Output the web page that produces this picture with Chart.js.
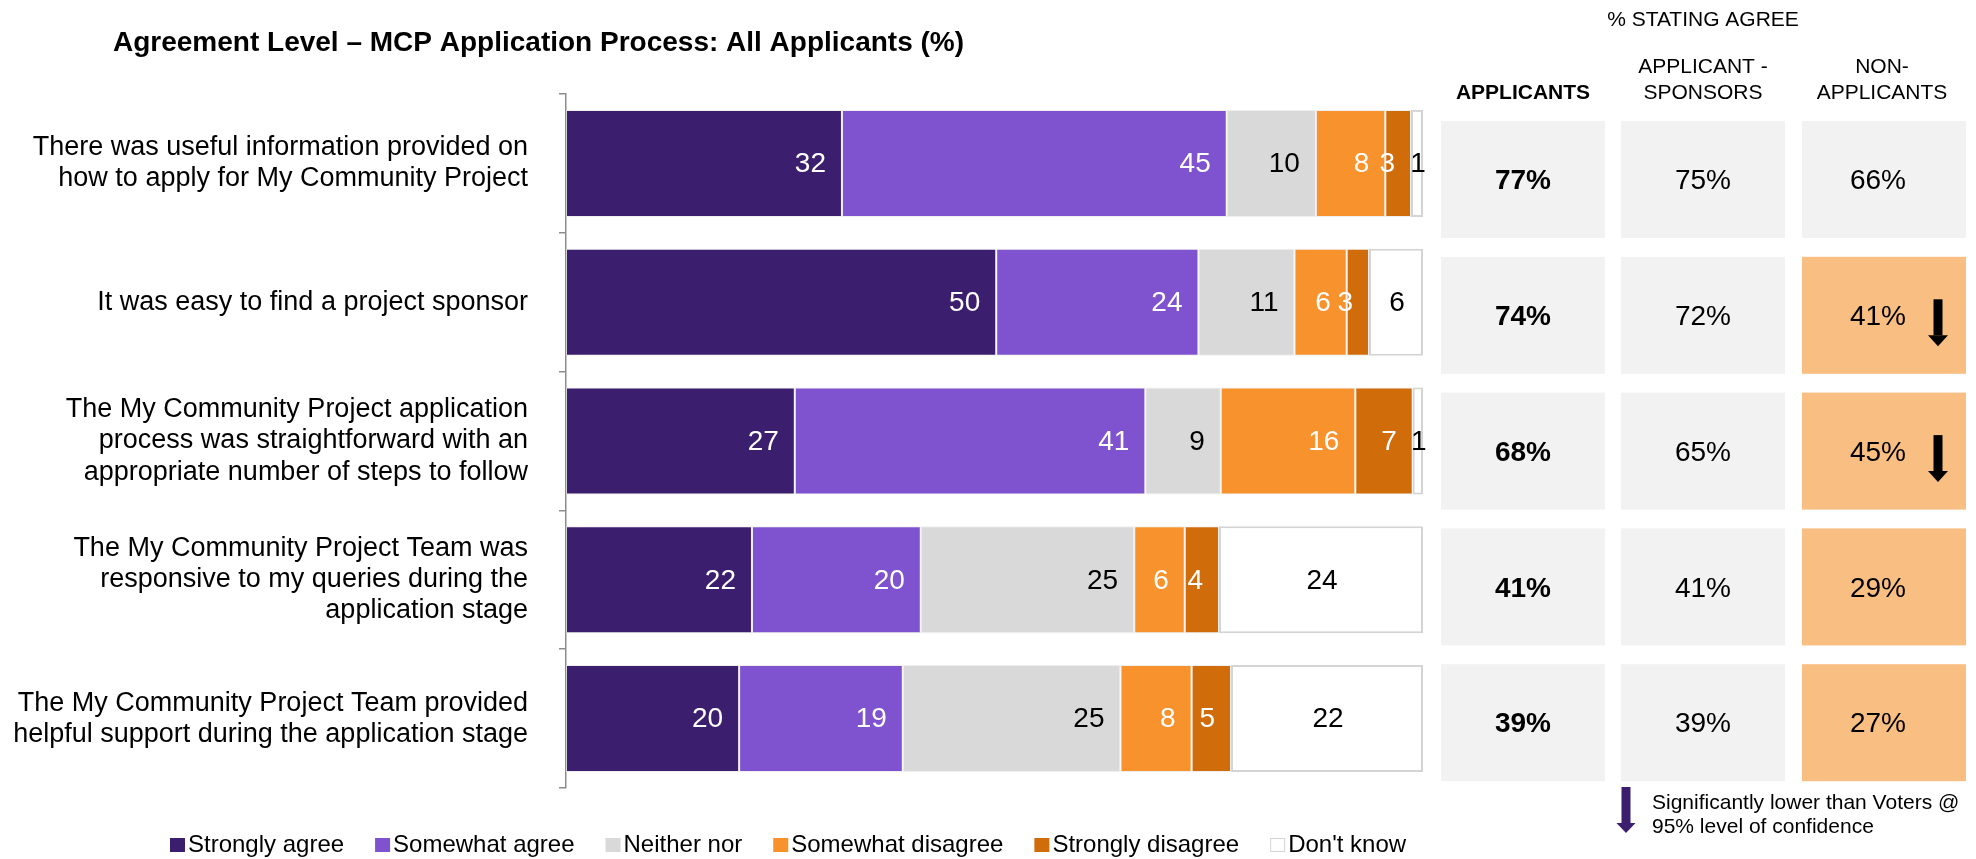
<!DOCTYPE html>
<html><head><meta charset="utf-8">
<script src="https://cdn.jsdelivr.net/npm/chart.js@4.4.1/dist/chart.umd.min.js"></script>
<style>html,body{margin:0;padding:0;background:#fff;overflow:hidden}canvas{display:block}</style>
</head><body>
<canvas id="c" width="1976" height="859"></canvas>
<script>
// ---------- DATA ----------
const chartTitle = "Agreement Level \u2013 MCP Application Process: All Applicants (%)";
const categories = [
  ["There was useful information provided on", "how to apply for My Community Project"],
  ["It was easy to find a project sponsor"],
  ["The My Community Project application", "process was straightforward with an", "appropriate number of steps to follow"],
  ["The My Community Project Team was", "responsive to my queries during the", "application stage"],
  ["The My Community Project Team provided", "helpful support during the application stage"]
];
const seriesNames = ["Strongly agree", "Somewhat agree", "Neither nor", "Somewhat disagree", "Strongly disagree", "Don't know"];
const stronglyAgree    = [32.2, 50.2, 26.7, 21.7, 20.2];
const somewhatAgree    = [44.9, 23.6, 40.9, 19.7, 19.1];
const neitherNor       = [10.4, 11.2,  8.8, 24.9, 25.4];
const somewhatDisagree = [ 8.1,  6.1, 15.7,  5.9,  8.3];
const stronglyDisagree = [ 3.0,  2.6,  6.7,  4.0,  4.6];
const dontKnow         = [ 1.4,  6.3,  1.2, 23.8, 22.4];

const tableSuperHeader = "% STATING AGREE";
const tableHeaders = [["APPLICANTS"], ["APPLICANT -", "SPONSORS"], ["NON-", "APPLICANTS"]];
const applicantsAgree        = [77, 74, 68, 41, 39];
const applicantSponsorsAgree = [75, 72, 65, 41, 39];
const nonApplicantsAgree     = [66, 41, 45, 29, 27];
const nonApplicantsHighlight = [false, true, true, true, true];
const nonApplicantsArrow     = [false, true, true, false, false];
const noteText = ["Significantly lower than Voters @", "95% level of confidence"];

// ---------- STYLE ----------
const FONT = '"Liberation Sans", Arial, Helvetica, sans-serif';
const seriesColors = ["#3C1E6E", "#7F52CF", "#D9D9D9", "#F7922D", "#D06C0A", "#FFFFFF"];
const labelColors  = ["#FFFFFF", "#FFFFFF", "#000000", "#FFFFFF", "#FFFFFF", "#000000"];
const seriesData = [stronglyAgree, somewhatAgree, neitherNor, somewhatDisagree, stronglyDisagree, dontKnow];

const datasets = seriesNames.map((name, i) => ({
  label: name,
  data: seriesData[i],
  backgroundColor: seriesColors[i],
  borderColor: i === 5 ? "#D4D4D4" : "rgba(225,225,225,0.55)",
  borderWidth: i === 5 ? 2 : 1,
  borderSkipped: false,
  barPercentage: 0.771,
  categoryPercentage: 1.0
}));

const extras = {
  id: "extras",
  afterDraw(chart) {
    const ctx = chart.ctx;
    const ca = chart.chartArea;
    ctx.save();

    // data labels
    ctx.font = "28px " + FONT;
    ctx.textBaseline = "middle";
    chart.data.datasets.forEach((ds, di) => {
      const meta = chart.getDatasetMeta(di);
      meta.data.forEach((bar, i) => {
        const t = String(Math.round(ds.data[i]));
        ctx.fillStyle = labelColors[di];
        if (di === 5) {
          ctx.textAlign = "center";
          ctx.fillText(t, (bar.x + bar.base) / 2 + 1, bar.y + 1);
        } else {
          ctx.textAlign = "right";
          ctx.fillText(t, bar.x - 16, bar.y + 1);
        }
      });
    });

    // title
    ctx.fillStyle = "#000";
    ctx.textAlign = "left";
    ctx.textBaseline = "alphabetic";
    ctx.font = "bold 28px " + FONT;
    ctx.fillText(chartTitle, 113, 51);

    // table
    const colX = [1441, 1621, 1802];
    const colW = 164;
    const tableTop = ca.top + 27;
    const pitch = 135.8;
    const cellH = 117;
    const colVals = [applicantsAgree, applicantSponsorsAgree, nonApplicantsAgree];

    ctx.font = "21px " + FONT;
    ctx.textAlign = "center";
    ctx.fillText(tableSuperHeader, 1703, 26);
    tableHeaders.forEach((lines, c) => {
      ctx.font = (c === 0 ? "bold " : "") + "21px " + FONT;
      const cx = colX[c] + colW / 2 + (c === 2 ? -2 : 0);
      lines.forEach((ln, k) => {
        ctx.fillText(ln, cx, 99 - (lines.length - 1 - k) * 26);
      });
    });

    categories.forEach((_, r) => {
      const top = tableTop + r * pitch;
      colVals.forEach((vals, c) => {
        ctx.fillStyle = (c === 2 && nonApplicantsHighlight[r]) ? "#F9BE82" : "#F2F2F2";
        ctx.fillRect(colX[c], top, colW, cellH);
        ctx.fillStyle = "#000";
        ctx.font = (c === 0 ? "bold " : "") + "28px " + FONT;
        ctx.textAlign = "center";
        ctx.textBaseline = "middle";
        const cx = colX[c] + colW / 2 + (c === 2 ? -6 : 0);
        ctx.fillText(vals[r] + "%", cx, top + cellH / 2 + 2);
        if (c === 2 && nonApplicantsArrow[r]) {
          drawArrow(ctx, 1938, top + cellH / 2 - 16, top + cellH / 2 + 31, 9, 20, 11, "#000");
        }
      });
    });

    // note with purple arrow
    drawArrow(ctx, 1626, 787, 833, 9, 19, 10, "#3C1E6E");
    ctx.fillStyle = "#000";
    ctx.font = "21px " + FONT;
    ctx.textAlign = "left";
    ctx.textBaseline = "alphabetic";
    noteText.forEach((ln, k) => ctx.fillText(ln, 1652, 809 + k * 24));

    // legend
    ctx.font = "24px " + FONT;
    let x = 170;
    chart.data.datasets.forEach((ds) => {
      ctx.fillStyle = ds.backgroundColor;
      ctx.fillRect(x, 838, 15, 14);
      if (ds.backgroundColor === "#FFFFFF") {
        ctx.strokeStyle = "#D4D4D4";
        ctx.lineWidth = 1;
        ctx.strokeRect(x + 0.5, 838.5, 14, 13);
      }
      ctx.fillStyle = "#000";
      ctx.fillText(ds.label, x + 18, 852);
      x += 18 + ctx.measureText(ds.label).width + 31;
    });
    ctx.restore();

    function drawArrow(c, cx, y0, y1, shaftW, headW, headH, color) {
      c.fillStyle = color;
      c.fillRect(cx - shaftW / 2, y0, shaftW, (y1 - y0) - headH);
      c.beginPath();
      c.moveTo(cx - headW / 2, y1 - headH);
      c.lineTo(cx + headW / 2, y1 - headH);
      c.lineTo(cx, y1);
      c.closePath();
      c.fill();
    }
  }
};

new Chart(document.getElementById("c"), {
  type: "bar",
  data: { labels: categories, datasets: datasets },
  options: {
    indexAxis: "y",
    responsive: false,
    animation: false,
    devicePixelRatio: 1,
    layout: { padding: { left: 0, right: 553, top: 94, bottom: 71 } },
    plugins: { legend: { display: false }, title: { display: false }, tooltip: { enabled: false } },
    scales: {
      x: { stacked: true, min: 0, max: 100, display: false },
      y: {
        stacked: true,
        afterFit(scale) { scale.width = 566; },
        grid: { display: true, drawOnChartArea: false, drawTicks: true, tickLength: 7, color: "#8C8C8C", lineWidth: 1.5, offset: true },
        border: { display: true, color: "#8C8C8C", width: 1.5 },
        ticks: { color: "#000", padding: 31, font: { family: FONT, size: 27, lineHeight: 1.15 } }
      }
    }
  },
  plugins: [extras]
});
</script>
</body></html>
